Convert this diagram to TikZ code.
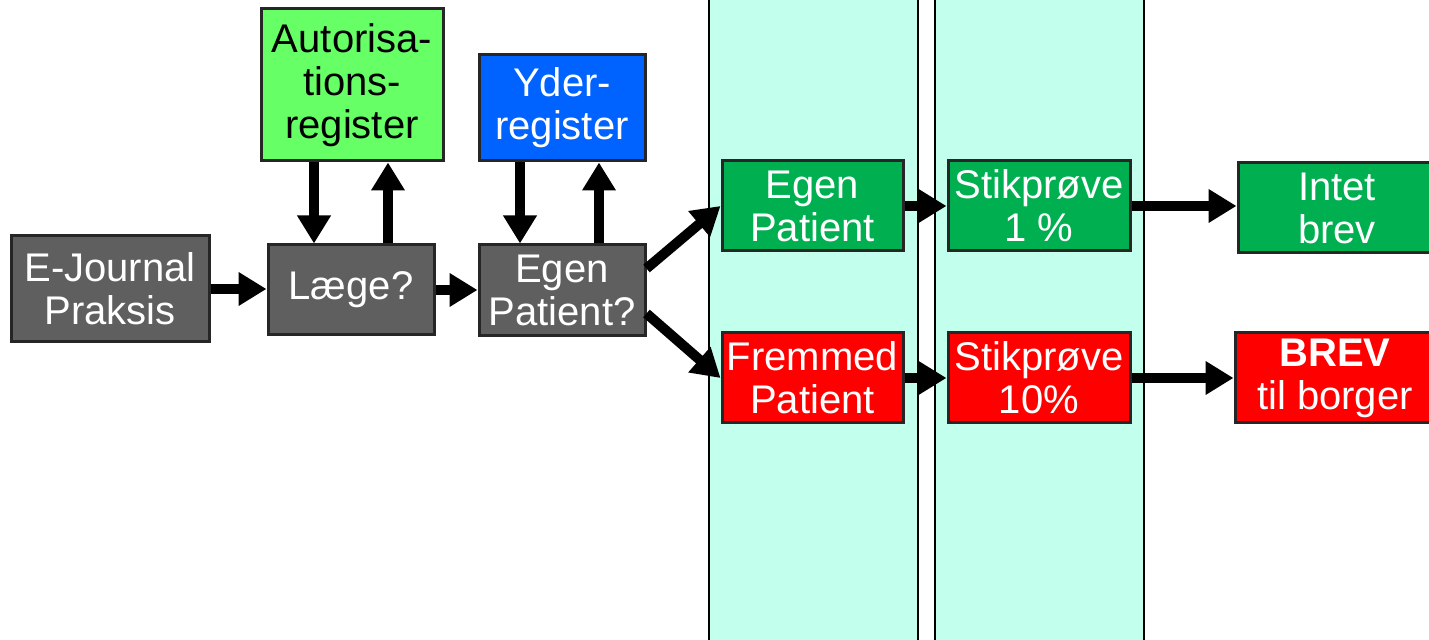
\documentclass[tikz,border=0pt]{standalone}
\usepackage{fontspec}
\setmainfont{Liberation Sans}
\usetikzlibrary{arrows.meta}

\definecolor{boxgray}{RGB}{95,95,95}
\definecolor{authgreen}{RGB}{102,255,102}
\definecolor{yderblue}{RGB}{0,98,255}
\definecolor{okgreen}{RGB}{0,176,80}
\definecolor{lanecyan}{RGB}{194,255,236}

\begin{document}
\begin{tikzpicture}[x=0.5pt, y=-0.5pt,
  box/.style={draw=black!85, line width=1.5pt, inner sep=0pt, align=center,
    text=white, font=\fontsize{20}{21.5}\selectfont},
  lane/.style={draw, line width=1pt, fill=lanecyan, inner sep=0pt,
    minimum width=104.5pt, minimum height=350pt},
  flow/.style={-{Triangle[length=14pt,width=16pt]}, line width=5pt}]
  \useasboundingbox (0,0) rectangle (1429,640);

  \node[lane] (lane1) at (813.5, 320) {};
  \node[lane] (lane2) at (1039.5, 320) {};

  \node[box, fill=boxgray, minimum width=99pt, minimum height=53pt]
    (ej) at (110, 289) {E-Journal\\Praksis};

  \node[box, fill=boxgray, minimum width=83pt, minimum height=45pt]
    (laege) at (351, 290) {Læge?};

  \node[box, fill=authgreen, text=black, minimum width=91pt, minimum height=76pt]
    (autor) at (352, 85) {Autorisa-\\tions-\\register};

  \node[box, fill=yderblue, minimum width=83pt, minimum height=53pt]
    (yder) at (562, 108) {Yder-\\register};

  \node[box, fill=boxgray, minimum width=83pt, minimum height=45.5pt]
    (egenq) at (562, 290.5) {Egen\\Patient?};

  \node[box, fill=okgreen, minimum width=90.5pt, minimum height=45pt]
    (egenpat) at (812.5, 206) {Egen\\Patient};

  \node[box, fill=red, minimum width=90.5pt, minimum height=45pt]
    (fremmed) at (812.5, 378) {Fremmed\\Patient};

  \node[box, fill=okgreen, minimum width=91pt, minimum height=45pt]
    (stik1) at (1039, 206) {Stikprøve\\1 \%};

  \node[box, fill=red, minimum width=91pt, minimum height=45pt]
    (stik10) at (1039, 378) {Stikprøve\\10\%};

  \node[box, fill=okgreen, minimum width=99pt, minimum height=45pt]
    (intet) at (1337, 208) {Intet\\brev};

  \node[box, fill=red, minimum width=100pt, minimum height=45pt]
    (brev) at (1335, 378) {\textbf{BREV}\\til borger};

  \draw[flow] (ej.east) -- (ej.east -| laege.west);
  \draw[flow] (laege.east) -- (laege.east -| egenq.west);

  \draw[flow] ([xshift=-19pt]autor.south) -- ([xshift=-19pt]autor.south |- laege.north);
  \draw[flow] ([xshift=18.5pt]laege.north) -- ([xshift=18.5pt]laege.north |- autor.south);
  \draw[flow] ([xshift=-21pt]yder.south) -- ([xshift=-21pt]yder.south |- egenq.north);
  \draw[flow] ([xshift=18.5pt]egenq.north) -- ([xshift=18.5pt]egenq.north |- yder.south);

  \draw[flow] ([yshift=11pt]egenq.east) -- (egenpat.west);
  \draw[flow] ([yshift=-11.5pt]egenq.east) -- (fremmed.west);

  \draw[flow] (egenpat) -- (stik1);
  \draw[flow] (fremmed) -- (stik10);
  \draw[flow] (stik1.east) -- (stik1.east -| intet.west);
  \draw[flow] (stik10) -- (brev);
\end{tikzpicture}
\end{document}
